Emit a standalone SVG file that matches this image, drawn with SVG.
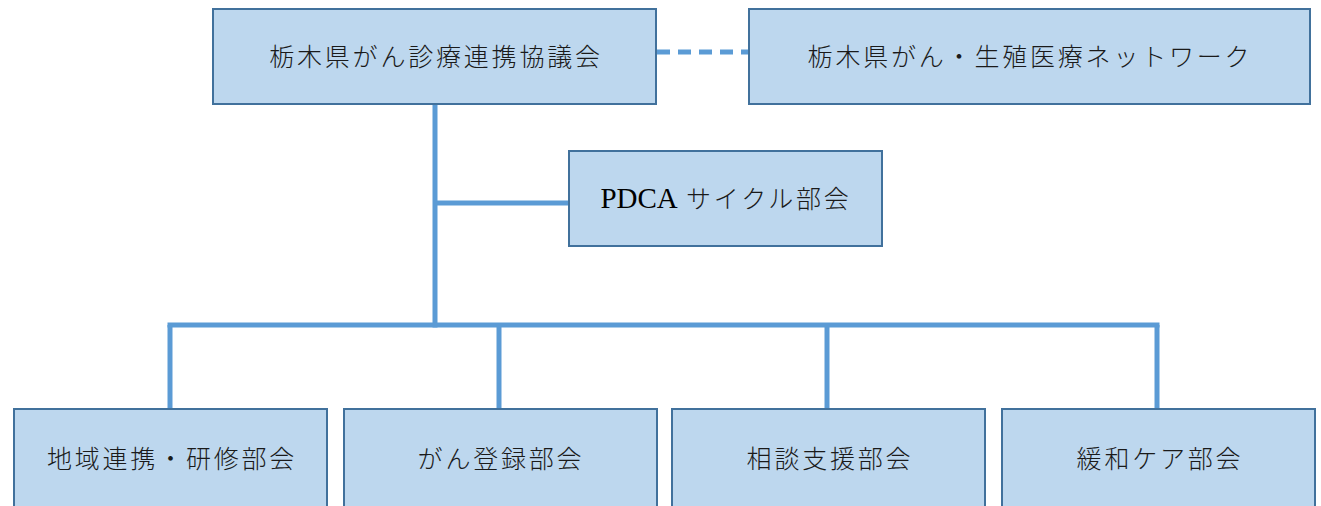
<svg xmlns="http://www.w3.org/2000/svg" width="1321" height="506" viewBox="0 0 1321 506">
<style>
.box{fill:#bdd7ee;stroke:#41719c;stroke-width:2}
.lbl{font-family:"Noto Sans CJK JP","Liberation Serif",sans-serif;font-size:25px;font-weight:300;fill:#1a1a1a;text-anchor:middle;letter-spacing:2.8px}
.lat{font-family:"Liberation Serif",serif;font-size:29px;letter-spacing:0px;font-weight:400;fill:#000}
.con{stroke:#5b9bd5;stroke-width:5;fill:none}
</style>
<rect width="1321" height="506" fill="#fff"/>
<g id="connectors">
<line class="con" x1="657" y1="52" x2="749" y2="52" stroke-dasharray="13,8"/>
<line class="con" x1="435" y1="104" x2="435" y2="327.5"/>
<line class="con" x1="435" y1="203" x2="569" y2="203"/>
<line class="con" x1="167.5" y1="325" x2="1159.5" y2="325"/>
<line class="con" x1="170" y1="325" x2="170" y2="409"/>
<line class="con" x1="499" y1="325" x2="499" y2="409"/>
<line class="con" x1="827" y1="325" x2="827" y2="409"/>
<line class="con" x1="1157" y1="325" x2="1157" y2="409"/>
</g>
<g id="node-council">
<rect class="box" x="213" y="9" width="443" height="95"/>
<text class="lbl" x="436" y="66">栃木県がん診療連携協議会</text>
</g>
<g id="node-network">
<rect class="box" x="749" y="9" width="561" height="95"/>
<text class="lbl" x="1030" y="66">栃木県がん・生殖医療ネットワーク</text>
</g>
<g id="node-pdca">
<rect class="box" x="569" y="151" width="313" height="95"/>
<text class="lbl" x="726" y="208"><tspan class="lat">PDCA</tspan> サイクル部会</text>
</g>
<g id="node-regional">
<rect class="box" x="14" y="409" width="313" height="100"/>
<text class="lbl" x="172" y="468">地域連携・研修部会</text>
</g>
<g id="node-registry">
<rect class="box" x="344" y="409" width="313" height="100"/>
<text class="lbl" x="501" y="468">がん登録部会</text>
</g>
<g id="node-consult">
<rect class="box" x="672" y="409" width="313" height="100"/>
<text class="lbl" x="830" y="468">相談支援部会</text>
</g>
<g id="node-palliative">
<rect class="box" x="1002" y="409" width="313" height="100"/>
<text class="lbl" x="1160" y="468">緩和ケア部会</text>
</g>
</svg>
